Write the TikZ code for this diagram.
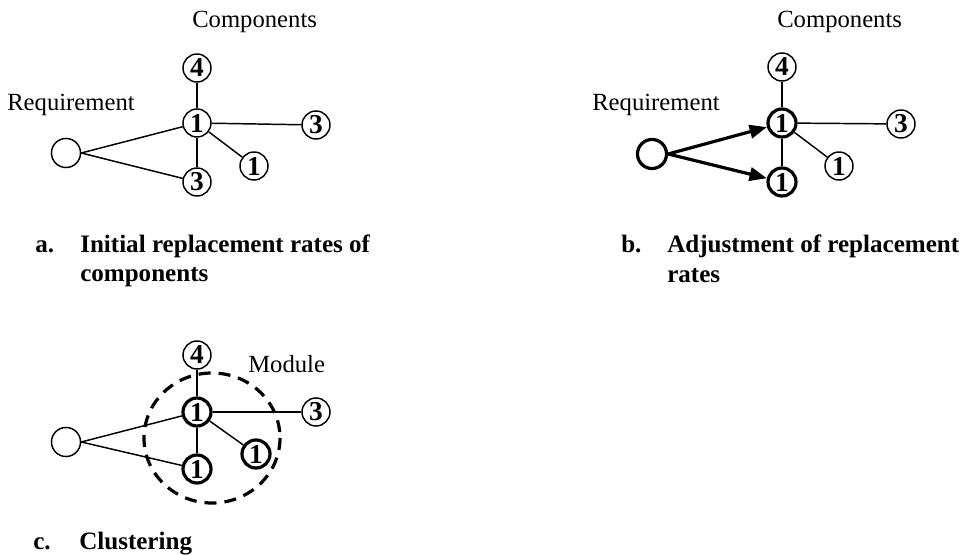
\documentclass[tikz,border=0pt]{standalone}
\usepackage{fontspec}
\setmainfont{Liberation Serif}
\usetikzlibrary{arrows.meta}

\tikzset{
  comp/.style={circle, draw, line width=1.1pt, minimum size=21pt, inner sep=0pt,
               font=\fontsize{20.5}{22}\selectfont\bfseries},
  compthick/.style={comp, line width=2.4pt},
  req/.style={circle, draw, line width=1.1pt, minimum size=21.8pt, inner sep=0pt},
  reqthick/.style={req, line width=2.4pt},
  link/.style={line width=1.1pt},
  flow/.style={line width=2.4pt, -{Triangle[length=13pt, width=10pt]}},
  modulering/.style={line width=2.4pt, dash pattern=on 9pt off 6pt},
  lbl/.style={anchor=base west, inner sep=0pt, font=\fontsize{18.5}{20}\selectfont},
  captiontext/.style={anchor=base west, inner sep=0pt, font=\fontsize{18.8}{22}\selectfont\bfseries}
}

\begin{document}
\begin{tikzpicture}[x=0.75pt, y=-0.75pt]
  \useasboundingbox (0,0) rectangle (960,555);

  % ---- a. initial replacement rates ----
  \node[lbl] (acomp) at (192,28) {Components};
  \node[lbl] (areqt) at (7,111) {Requirement};
  \node[req]  (areq) at (66,153) {};
  \node[comp] (a4)   at (197,68)  {4};
  \node[comp] (a1)   at (197,123) {1};
  \node[comp] (a3r)  at (316,125) {3};
  \node[comp] (a1r)  at (254,166) {1};
  \node[comp] (a3b)  at (197,182) {3};
  \draw[link] (areq.east) -- (a1);
  \draw[link] (areq.east) -- (a3b);
  \draw[link] (a4) -- (a1);
  \draw[link] (a1) -- (a3b);
  \draw[link] (a1) -- (a3r);
  \draw[link] (a1) -- (a1r);

  \node[captiontext] (capa)  at (35,253) {a.};
  \node[captiontext] (capa1) at (80,253) {Initial replacement rates of};
  \node[captiontext] (capa2) at (80,282) {components};

  % ---- b. adjustment of replacement rates ----
  \node[lbl] (bcomp) at (777,28) {Components};
  \node[lbl] (breqt) at (592,111) {Requirement};
  \node[reqthick]  (breq) at (652,154) {};
  \node[comp]      (b4)   at (782,67)  {4};
  \node[compthick] (b1)   at (782,123) {1};
  \node[comp]      (b3r)  at (901,124) {3};
  \node[comp]      (b1r)  at (839,166) {1};
  \node[compthick] (b1b)  at (782,182) {1};
  \draw[link] (b4) -- (b1);
  \draw[link] (b1) -- (b1b);
  \draw[link] (b1) -- (b3r);
  \draw[link] (b1) -- (b1r);
  \draw[flow] (breq.east) -- (b1);
  \draw[flow] (breq.east) -- (b1b);

  \node[captiontext] (capb)  at (621,253) {b.};
  \node[captiontext] (capb1) at (667,253) {Adjustment of replacement};
  \node[captiontext] (capb2) at (667,283) {rates};

  % ---- c. clustering ----
  \coordinate (mod) at (212,438);
  \draw[modulering] (mod) ellipse [x radius=68, y radius=65];
  \node[lbl] (modt) at (248,373) {Module};
  \node[req]       (creq) at (66,442)  {};
  \node[comp]      (c4)   at (197,355) {4};
  \node[compthick] (c1)   at (197,412) {1};
  \node[comp]      (c3r)  at (316,412) {3};
  \node[compthick] (c1r)  at (256,454) {1};
  \node[compthick] (c1b)  at (197,469) {1};
  \draw[link] (creq.east) -- (c1);
  \draw[link] (creq.east) -- (c1b);
  \draw[link] (c4) -- (c1);
  \draw[link] (c1) -- (c1b);
  \draw[link] (c1) -- (c3r);
  \draw[link] (c1) -- (c1r);

  \node[captiontext] (capc)  at (33,549) {c.};
  \node[captiontext] (capc1) at (79,549) {Clustering};
\end{tikzpicture}
\end{document}
